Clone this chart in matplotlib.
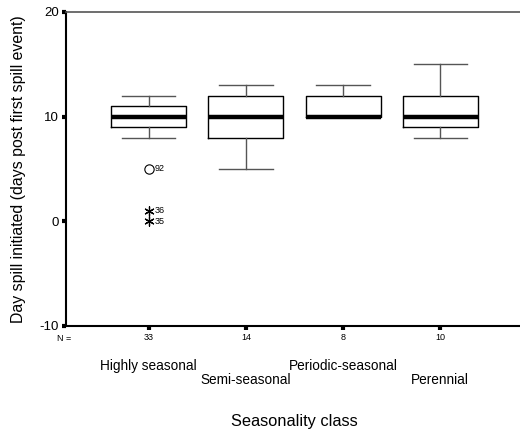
import matplotlib
matplotlib.use('Agg')
import matplotlib.pyplot as plt

plt.rcParams['font.family'] = ['Liberation Sans', 'DejaVu Sans']
plt.rcParams['axes.unicode_minus'] = False

# box summaries per seasonality class
classes = ['Highly seasonal', 'Semi-seasonal', 'Periodic-seasonal', 'Perennial']
n_counts = [33, 14, 8, 10]
whis_lo = [8, 5, 10, 8]
q1 = [9, 8, 10, 9]
med = [10, 10, 10, 10]
q3 = [11, 12, 12, 12]
whis_hi = [12, 13, 13, 15]

# outliers (circle) and extremes (asterisk) for the first class
out_vals = [5]
out_ids = ['92']
ext_vals = [1, 0]
ext_ids = ['36', '35']

fig = plt.figure(figsize=(5.2, 4.34), dpi=100)
ax = fig.add_axes([0.127, 0.249, 0.873, 0.7236])

pos = [1, 2, 3, 4]
stats = []
for i in range(4):
    stats.append({'whislo': whis_lo[i], 'q1': q1[i], 'med': med[i],
                  'q3': q3[i], 'whishi': whis_hi[i], 'fliers': []})

ax.bxp(stats, positions=pos, widths=0.77, showfliers=False,
       boxprops=dict(color='black', linewidth=1.0),
       medianprops=dict(color='black', linewidth=3.2, solid_capstyle='butt'),
       whiskerprops=dict(color='#555555', linewidth=1.0),
       capprops=dict(color='#555555', linewidth=1.0),
       capwidths=0.55)

ax.scatter([pos[0]] * len(out_vals), out_vals, s=45, marker='o',
           facecolor='white', edgecolor='black', linewidth=0.8, zorder=3)
ax.scatter([pos[0]] * len(ext_vals), ext_vals, s=45, marker=(6, 2, 0),
           color='black', linewidth=0.9, zorder=3)
for v, t in zip(out_vals, out_ids):
    ax.text(pos[0] + 0.06, v, t, fontsize=6.5, va='center', ha='left')
for v, t in zip(ext_vals, ext_ids):
    ax.text(pos[0] + 0.06, v, t, fontsize=6.5, va='center', ha='left')

ax.set_xlim(0.15, 4.82)
ax.set_ylim(-10, 20)
ax.set_yticks([-10, 0, 10, 20])
ax.set_xticks(pos)
ax.set_xticklabels([str(n) for n in n_counts], fontsize=6.5)
ax.tick_params(axis='y', direction='out', length=3, width=3, labelsize=9.5, pad=2)
ax.tick_params(axis='x', direction='out', length=3, width=3, pad=2)

ax.spines['right'].set_visible(False)
ax.spines['top'].set_color('#555555')
ax.spines['top'].set_linewidth(1.2)
ax.spines['left'].set_linewidth(1.5)
ax.spines['bottom'].set_linewidth(1.5)

ax.text(0.06, -10.8, 'N =', fontsize=6.5, ha='left', va='top')

# staggered category names
for i, name in enumerate(classes):
    yy = -13.8 if i % 2 == 0 else -15.2
    ax.text(pos[i], yy, name, fontsize=9.8, ha='center', va='center', clip_on=False)

ax.set_ylabel('Day spill initiated (days post first spill event)', fontsize=11.4)
ax.yaxis.set_label_coords(-0.088, 0.5)
fig.text(0.567, 0.028, 'Seasonality class', fontsize=11.8, ha='center', va='center')

fig.savefig('out.png', dpi=100)
